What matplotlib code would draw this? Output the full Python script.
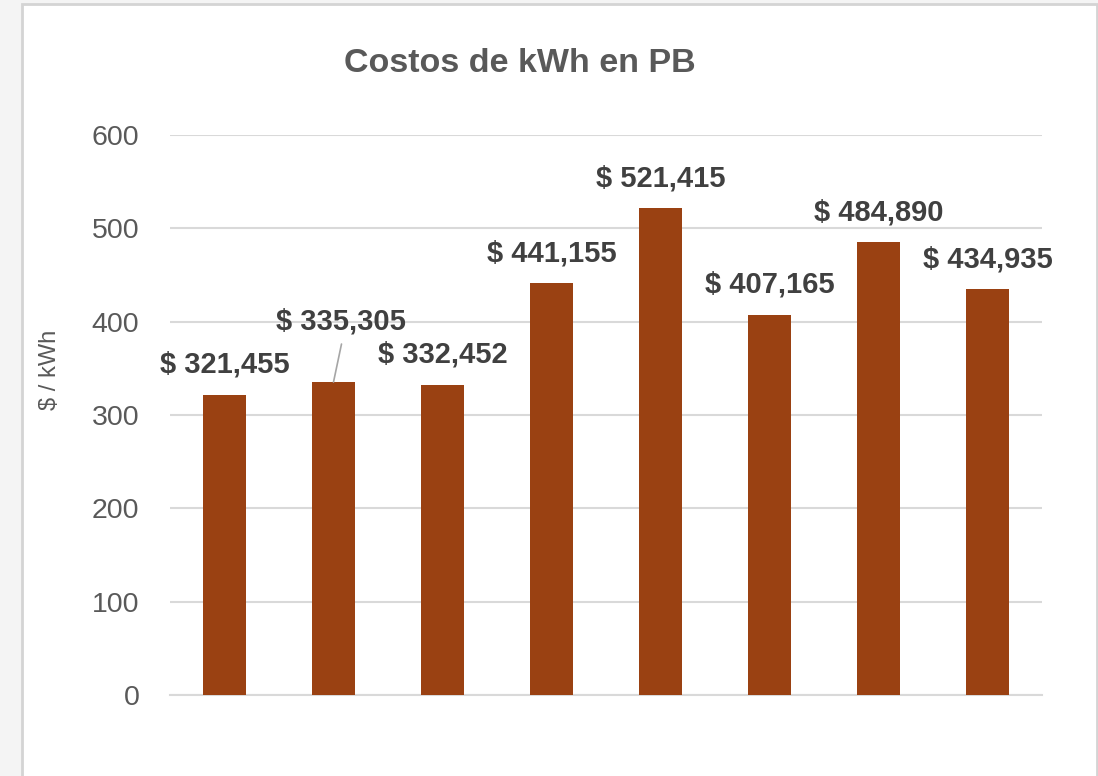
import matplotlib
matplotlib.use("Agg")
import matplotlib.pyplot as plt
from matplotlib.patches import Rectangle

plt.rcParams['font.family'] = ['Liberation Sans', 'DejaVu Sans']

# Costs per kWh for each period
categories = ["1", "2", "3", "4", "5", "6", "7", "8"]
costs = [321.455, 335.305, 332.452, 441.155, 521.415, 407.165, 484.890, 434.935]
y_ticks = [0, 100, 200, 300, 400, 500, 600]

title = "Costos de kWh en PB"
y_label = "$ / kWh"

bar_color = "#9A4112"
text_grey = "#595959"
label_grey = "#404040"
grid_grey = "#d9d9d9"

W, H = 1098, 776
fig = plt.figure(figsize=(W / 100, H / 100), dpi=100)
fig.patch.set_facecolor("#f4f4f4")

# White chart panel with a thin grey frame
panel = Rectangle((22 / W, -0.01), (1097 - 22) / W, 1 - 4 / H + 0.01,
                  transform=fig.transFigure, facecolor="white",
                  edgecolor="#d4d4d4", linewidth=2.0, zorder=-10)
fig.patches.append(panel)

ax = fig.add_axes([170 / W, 1 - 695 / H, (1042 - 170) / W, (695 - 135) / H])
ax.set_facecolor("none")

x = list(range(len(categories)))
ax.bar(x, costs, width=0.4, color=bar_color, zorder=3)

ax.set_xlim(-0.5, len(categories) - 0.5)
ax.set_ylim(0, 600)
ax.set_yticks(y_ticks)
ax.set_xticks([])
ax.tick_params(axis="y", length=0, pad=22, labelsize=20.5, labelcolor=text_grey)
ax.yaxis.grid(True, color=grid_grey, linewidth=1.5, zorder=0)
for side in ["top", "right", "left"]:
    ax.spines[side].set_visible(False)
ax.spines["bottom"].set_color(grid_grey)
ax.spines["bottom"].set_linewidth(1.5)
ax.spines["bottom"].set_zorder(1)

ax.set_ylabel(y_label, fontsize=17, color=text_grey)
ax.yaxis.set_label_coords(-0.125, 0.58)

fig.text(520 / W, 1 - 64 / H, title, ha="center", va="center",
         fontsize=24.5, fontweight="bold", color=text_grey)

# Value labels above each bar; the second one is lifted with a leader line
for i, v in enumerate(costs):
    txt = "$ " + f"{v:.3f}".replace(".", ",")
    if i == 1:
        ax.annotate(txt, xy=(i, v), xytext=(7, 61), textcoords="offset pixels",
                    ha="center", va="center", fontsize=21, fontweight="bold",
                    color=label_grey, zorder=5)
        ax.annotate("", xy=(i, v), xytext=(8, 38), textcoords="offset pixels",
                    arrowprops=dict(arrowstyle="-", color="#a6a6a6", lw=1.2,
                                    shrinkA=0, shrinkB=0), zorder=4)
    else:
        ax.annotate(txt, xy=(i, v), xytext=(0, 30), textcoords="offset pixels",
                    ha="center", va="center", fontsize=21, fontweight="bold",
                    color=label_grey, zorder=5)

fig.savefig("out.png", dpi=100, facecolor=fig.get_facecolor())
